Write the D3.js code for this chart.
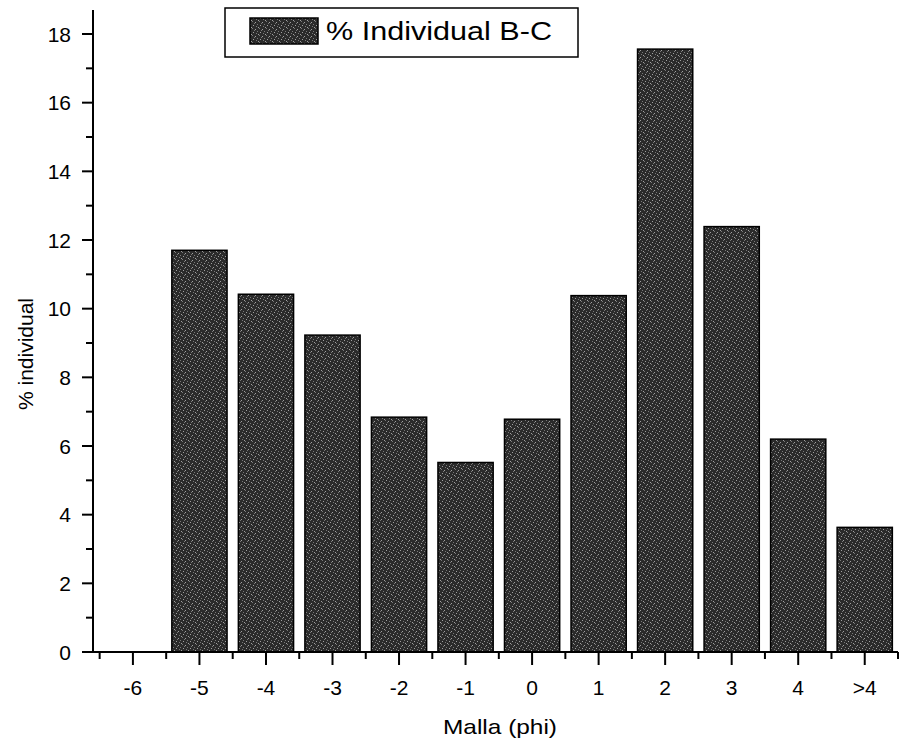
<!DOCTYPE html>
<html>
<head>
<meta charset="utf-8">
<script src="https://cdn.jsdelivr.net/npm/d3@7"></script>
<style>
  html, body { margin: 0; padding: 0; background: #fff; }
  svg { display: block; }
  text { font-family: "Liberation Sans", Arial, Helvetica, sans-serif; fill: #000; }
</style>
</head>
<body>
<svg id="chart" width="900" height="742"></svg>
<script>
const categories = ["-6", "-5", "-4", "-3", "-2", "-1", "0", "1", "2", "3", "4", ">4"];
const values = [0, 11.7, 10.42, 9.23, 6.84, 5.52, 6.78, 10.38, 17.56, 12.39, 6.2, 3.63];
const yTicks = [0, 2, 4, 6, 8, 10, 12, 14, 16, 18];
const yMinorTicks = [1, 3, 5, 7, 9, 11, 13, 15, 17];
const seriesName = "% Individual B-C";
const xTitle = "Malla (phi)";
const yTitle = "% individual";

const svg = d3.select("#chart");

// speckled fill texture (styling only)
const defs = svg.append("defs");
const pat = defs.append("pattern")
  .attr("id", "speckle").attr("patternUnits", "userSpaceOnUse")
  .attr("width", 7).attr("height", 7);
pat.append("rect").attr("width", 7).attr("height", 7).attr("fill", "#2b2b2b");
const dots = [[0, 0], [3, 1], [5, 3], [1, 4], [4, 5], [6, 6], [2, 2]];
pat.selectAll("rect.d").data(dots).join("rect")
  .attr("x", d => d[0]).attr("y", d => d[1])
  .attr("width", 1).attr("height", 1)
  .attr("fill", (d, i) => i % 2 ? "#a0a0a0" : "#787878");

const x = d3.scaleLinear().domain([-0.6, 11.5]).range([93, 898]);
const y = d3.scaleLinear().domain([0, 18]).range([652, 34]);
const yTop = 18.7;
const barFrac = 0.83;
const bw = (x(1) - x(0)) * barFrac;

// bars
svg.append("g").selectAll("rect").data(values).join("rect")
  .attr("x", (d, i) => x(i) - bw / 2)
  .attr("y", d => y(d))
  .attr("width", bw)
  .attr("height", d => y(0) - y(d))
  .attr("fill", d => d > 0 ? "url(#speckle)" : "none")
  .attr("stroke", d => d > 0 ? "#000" : "none")
  .attr("stroke-width", 1.5);

// y axis
const yAxisG = svg.append("g");
yAxisG.append("line")
  .attr("x1", x(-0.6)).attr("x2", x(-0.6))
  .attr("y1", y(yTop)).attr("y2", y(0))
  .attr("stroke", "#000").attr("stroke-width", 2);
yAxisG.selectAll(".maj").data(yTicks).join("line")
  .attr("x1", x(-0.6) - 11).attr("x2", x(-0.6))
  .attr("y1", d => y(d)).attr("y2", d => y(d))
  .attr("stroke", "#000").attr("stroke-width", 2);
yAxisG.selectAll(".min").data(yMinorTicks).join("line")
  .attr("x1", x(-0.6) - 7).attr("x2", x(-0.6))
  .attr("y1", d => y(d)).attr("y2", d => y(d))
  .attr("stroke", "#000").attr("stroke-width", 2);
yAxisG.selectAll("text").data(yTicks).join("text")
  .attr("x", x(-0.6) - 22).attr("y", d => y(d))
  .attr("dy", "0.36em")
  .attr("text-anchor", "end")
  .attr("font-size", 21)
  .text(d => d);

// x axis
const xAxisG = svg.append("g");
xAxisG.append("line")
  .attr("x1", x(-0.6)).attr("x2", x(11.5))
  .attr("y1", y(0)).attr("y2", y(0))
  .attr("stroke", "#000").attr("stroke-width", 2);
xAxisG.selectAll(".maj").data(categories).join("line")
  .attr("x1", (d, i) => x(i)).attr("x2", (d, i) => x(i))
  .attr("y1", y(0)).attr("y2", y(0) + 13)
  .attr("stroke", "#000").attr("stroke-width", 2);
const xMinor = d3.range(-0.5, 11.6, 1);
xAxisG.selectAll(".min").data(xMinor).join("line")
  .attr("x1", d => x(d)).attr("x2", d => x(d))
  .attr("y1", y(0)).attr("y2", y(0) + 7)
  .attr("stroke", "#000").attr("stroke-width", 2);
xAxisG.selectAll("text").data(categories).join("text")
  .attr("x", (d, i) => x(i)).attr("y", y(0) + 43)
  .attr("text-anchor", "middle")
  .attr("font-size", 21)
  .text(d => d);

// axis titles
svg.append("text")
  .attr("x", 500).attr("y", 734)
  .attr("text-anchor", "middle")
  .attr("font-size", 21)
  .attr("textLength", 114).attr("lengthAdjust", "spacingAndGlyphs")
  .text(xTitle);
svg.append("text")
  .attr("transform", "translate(33,354) rotate(-90)")
  .attr("text-anchor", "middle")
  .attr("font-size", 20)
  .attr("textLength", 112).attr("lengthAdjust", "spacingAndGlyphs")
  .text(yTitle);

// legend
const lg = svg.append("g");
lg.append("rect")
  .attr("x", 225).attr("y", 8).attr("width", 353).attr("height", 49)
  .attr("fill", "#fff").attr("stroke", "#000").attr("stroke-width", 1.5);
lg.append("rect")
  .attr("x", 250).attr("y", 18).attr("width", 68).attr("height", 26)
  .attr("fill", "url(#speckle)").attr("stroke", "#000").attr("stroke-width", 1.5);
lg.append("text")
  .attr("x", 326).attr("y", 40)
  .attr("font-size", 26)
  .attr("textLength", 226).attr("lengthAdjust", "spacingAndGlyphs")
  .text(seriesName);
</script>
</body>
</html>
